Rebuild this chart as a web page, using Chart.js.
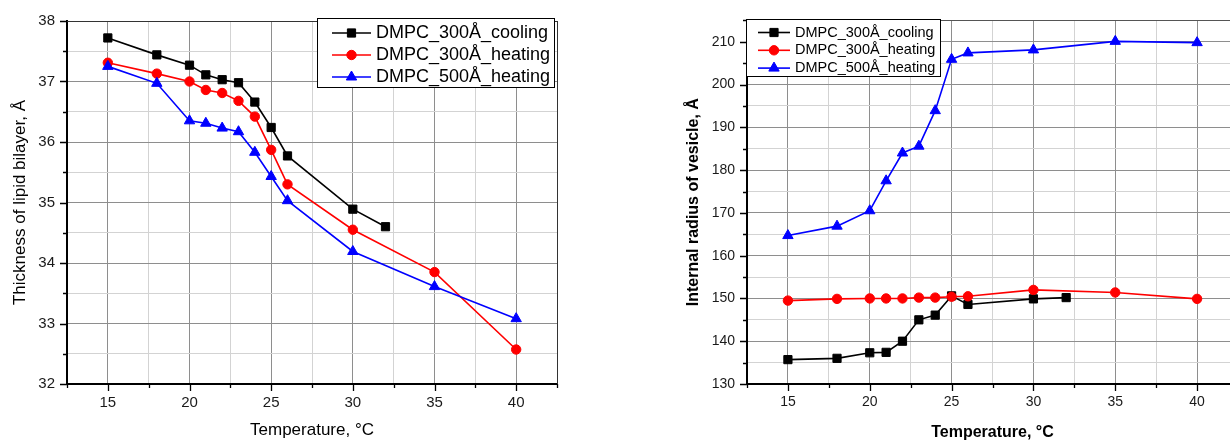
<!DOCTYPE html>
<html>
<head>
<meta charset="utf-8">
<title>DMPC bilayer thickness and vesicle radius vs temperature</title>
<script src="https://cdn.jsdelivr.net/npm/chart.js@4.4.1/dist/chart.umd.min.js"></script>
<style>
  html, body { margin: 0; padding: 0; background: #fff; }
  body { width: 1230px; height: 441px; overflow: hidden; position: relative; }
  canvas { position: absolute; top: 0; }
  #thicknessChart { left: 0; }
  #radiusChart { left: 670px; }
</style>
</head>
<body>
<canvas id="thicknessChart" width="600" height="441"></canvas>
<canvas id="radiusChart" width="620" height="441"></canvas>
<script>
// Temperatures (°C) at which each series was measured
const temperatureCooling = [15, 18, 20, 21, 22, 23, 24, 25, 26, 30, 32];
const temperatureHeating = [15, 18, 20, 21, 22, 23, 24, 25, 26, 30, 35, 40];

// Series names
const seriesNames = ['DMPC_300Å_cooling', 'DMPC_300Å_heating', 'DMPC_500Å_heating'];

// Thickness of lipid bilayer, Å
const thicknessCooling300 = [37.72, 37.44, 37.27, 37.11, 37.03, 36.98, 36.66, 36.24, 35.77, 34.89, 34.60];
const thicknessHeating300 = [37.31, 37.13, 37.00, 36.86, 36.81, 36.68, 36.42, 35.87, 35.30, 34.55, 33.85, 32.57];
const thicknessHeating500 = [37.25, 36.97, 36.35, 36.31, 36.23, 36.17, 35.83, 35.43, 35.03, 34.19, 33.61, 33.08];

// Internal radius of vesicle, Å
const radiusCooling300 = [135.7, 136.0, 137.3, 137.4, 140.0, 145.0, 146.1, 150.6, 148.6, 149.9, 150.2];
const radiusHeating300 = [149.5, 149.9, 150.0, 150.0, 150.0, 150.2, 150.2, 150.4, 150.5, 152.0, 151.4, 149.9];
const radiusHeating500 = [164.7, 166.9, 170.5, 177.5, 184.0, 185.6, 193.9, 205.9, 207.4, 208.1, 210.1, 209.8];

const FONT = "'Liberation Sans', Arial, Helvetica, sans-serif";
const MAJOR_GRID = '#8e8e8e';
const MINOR_GRID = '#d3d3d3';

function isMajor(v, step) {
  return Math.abs(v - Math.round(v / step) * step) < 1e-6;
}

function toPoints(xs, ys) {
  return xs.map((x, i) => ({ x: x, y: ys[i] }));
}

const seriesStyles = [
  { color: '#000000', pointStyle: 'rect', radius: 5.8, order: 3 },
  { color: '#ff0000', pointStyle: 'circle', radius: 4.7, order: 2 },
  { color: '#0000ff', pointStyle: 'triangle', radius: 6, order: 1 }
];

function makeDataset(i, xs, ys) {
  const s = seriesStyles[i];
  return {
    label: seriesNames[i],
    data: toPoints(xs, ys),
    borderColor: s.color,
    backgroundColor: s.color,
    pointBackgroundColor: s.color,
    pointBorderColor: s.color,
    pointBorderWidth: 1,
    pointStyle: s.pointStyle,
    pointRadius: s.radius,
    pointHoverRadius: s.radius,
    borderWidth: 1.6,
    tension: 0,
    order: s.order
  };
}

function drawMarker(ctx, style, x, y, r) {
  ctx.beginPath();
  if (style === 'rect') {
    const h = r * Math.SQRT1_2;
    ctx.rect(x - h, y - h, 2 * h, 2 * h);
  } else if (style === 'circle') {
    ctx.arc(x, y, r, 0, Math.PI * 2);
  } else if (style === 'triangle') {
    const w = r * Math.sqrt(3) / 2;
    ctx.moveTo(x, y - r);
    ctx.lineTo(x + w, y + r / 2);
    ctx.lineTo(x - w, y + r / 2);
    ctx.closePath();
  }
  ctx.fill();
  ctx.stroke();
}

// Minor/major tick marks, plot frame and a boxed legend
const axisDecor = {
  id: 'axisDecor',
  beforeDatasetsDraw(chart, args, opts) {
    const ctx = chart.ctx;
    const area = chart.chartArea;
    const xs = chart.scales.x, ys = chart.scales.y;
    ctx.save();
    // top and right frame
    ctx.strokeStyle = opts.frameColor;
    ctx.lineWidth = 1;
    ctx.beginPath();
    ctx.moveTo(area.left, Math.round(area.top) + 0.5);
    ctx.lineTo(area.right, Math.round(area.top) + 0.5);
    ctx.moveTo(Math.round(area.right) + 0.5, area.top);
    ctx.lineTo(Math.round(area.right) + 0.5, area.bottom);
    ctx.stroke();
    // outward ticks
    ctx.strokeStyle = '#000';
    ctx.lineWidth = 1.3;
    ctx.beginPath();
    xs.ticks.forEach(t => {
      const px = Math.round(xs.getPixelForValue(t.value)) + 0.5;
      const len = isMajor(t.value, opts.xMajor) ? 7 : 4;
      ctx.moveTo(px, area.bottom);
      ctx.lineTo(px, area.bottom + len);
    });
    ys.ticks.forEach(t => {
      const py = Math.round(ys.getPixelForValue(t.value)) + 0.5;
      const len = isMajor(t.value, opts.yMajor) ? 7 : 4;
      ctx.moveTo(area.left, py);
      ctx.lineTo(area.left - len, py);
    });
    ctx.stroke();
    ctx.restore();
  },
  afterDraw(chart, args, opts) {
    const lg = opts.legend;
    const ctx = chart.ctx;
    ctx.save();
    ctx.fillStyle = '#fff';
    ctx.fillRect(lg.x, lg.y, lg.w, lg.h);
    ctx.strokeStyle = '#000';
    ctx.lineWidth = 1;
    ctx.strokeRect(lg.x + 0.5, lg.y + 0.5, lg.w, lg.h);
    ctx.font = lg.fontSize + 'px ' + FONT;
    ctx.textBaseline = 'middle';
    ctx.textAlign = 'left';
    chart.data.datasets.forEach((ds, i) => {
      const cy = lg.firstRowY + i * lg.rowH;
      ctx.strokeStyle = ds.borderColor;
      ctx.fillStyle = ds.borderColor;
      ctx.lineWidth = ds.borderWidth;
      ctx.beginPath();
      ctx.moveTo(lg.lineX0, cy);
      ctx.lineTo(lg.lineX1, cy);
      ctx.stroke();
      ctx.lineWidth = 1;
      drawMarker(ctx, ds.pointStyle, (lg.lineX0 + lg.lineX1) / 2, cy, ds.pointRadius);
      ctx.fillStyle = '#000';
      ctx.fillText(ds.label, lg.textX, cy);
    });
    ctx.restore();
  }
};

function buildOptions(cfg) {
  return {
    responsive: false,
    animation: false,
    events: [],
    layout: { padding: cfg.padding },
    plugins: {
      legend: { display: false },
      tooltip: { enabled: false },
      axisDecor: {
        frameColor: cfg.frameColor,
        xMajor: 5,
        yMajor: cfg.yMajor,
        legend: cfg.legend
      }
    },
    scales: {
      x: {
        type: 'linear',
        min: 12.5, max: 42.5,
        afterFit: s => { s.height = cfg.xAxisHeight; },
        border: { color: '#000', width: 2 },
        grid: {
          drawTicks: false,
          lineWidth: 1,
          color: c => isMajor(c.tick.value, 5) ? MAJOR_GRID : MINOR_GRID
        },
        ticks: {
          stepSize: 2.5,
          autoSkip: false,
          maxRotation: 0,
          padding: 10,
          color: '#1a1a1a',
          font: { family: FONT, size: cfg.tickSize },
          callback: v => isMajor(v, 5) ? String(v) : ''
        },
        title: {
          display: true,
          text: 'Temperature, °C',
          color: '#000',
          padding: cfg.xTitlePad,
          font: { family: FONT, size: cfg.titleSize, weight: cfg.titleWeight, lineHeight: cfg.xTitleLH }
        }
      },
      y: {
        type: 'linear',
        min: cfg.yMin, max: cfg.yMax,
        afterFit: s => { s.width = cfg.yAxisWidth; },
        border: { color: '#000', width: 2 },
        grid: {
          drawTicks: false,
          lineWidth: 1,
          color: c => isMajor(c.tick.value, cfg.yMajor) ? MAJOR_GRID : MINOR_GRID
        },
        ticks: {
          stepSize: cfg.yStep,
          autoSkip: false,
          padding: 12,
          color: '#1a1a1a',
          font: { family: FONT, size: cfg.tickSize },
          callback: v => isMajor(v, cfg.yMajor) ? String(v) : ''
        },
        title: {
          display: true,
          text: cfg.yTitle,
          color: '#000',
          padding: cfg.yTitlePad,
          font: { family: FONT, size: cfg.titleSize, weight: cfg.titleWeight }
        }
      }
    }
  };
}

// Left panel: bilayer thickness
new Chart(document.getElementById('thicknessChart'), {
  type: 'line',
  data: {
    datasets: [
      makeDataset(0, temperatureCooling, thicknessCooling300),
      makeDataset(1, temperatureHeating, thicknessHeating300),
      makeDataset(2, temperatureHeating, thicknessHeating500)
    ]
  },
  options: buildOptions({
    padding: { left: 0, top: 20, right: 43, bottom: 0 },
    frameColor: '#333',
    yMin: 32, yMax: 38, yStep: 0.5, yMajor: 1,
    yAxisWidth: 67, xAxisHeight: 57,
    tickSize: 15, titleSize: 17, titleWeight: 'normal',
    xTitlePad: { top: 0, bottom: 0 }, xTitleLH: 1.2,
    yTitlePad: { top: 10, bottom: 0 },
    yTitle: 'Thickness of lipid bilayer, Å',
    legend: {
      x: 317, y: 18, w: 237, h: 69,
      firstRowY: 33, rowH: 22,
      lineX0: 332, lineX1: 371, textX: 376, fontSize: 18
    }
  }),
  plugins: [axisDecor]
});

// Right panel: internal vesicle radius
new Chart(document.getElementById('radiusChart'), {
  type: 'line',
  data: {
    datasets: [
      makeDataset(0, temperatureCooling, radiusCooling300),
      makeDataset(1, temperatureHeating, radiusHeating300),
      makeDataset(2, temperatureHeating, radiusHeating500)
    ]
  },
  options: buildOptions({
    padding: { left: 0, top: 20, right: 52, bottom: 0 },
    frameColor: '#555',
    yMin: 130, yMax: 215, yStep: 5, yMajor: 10,
    yAxisWidth: 77, xAxisHeight: 57,
    tickSize: 14, titleSize: 16, titleWeight: 'bold',
    xTitlePad: { top: 0, bottom: 0 }, xTitleLH: 1.0,
    yTitlePad: { top: 14, bottom: 0 },
    yTitle: 'Internal radius of vesicle, Å',
    legend: {
      x: 76, y: 19, w: 194, h: 57,
      firstRowY: 32.5, rowH: 17.8,
      lineX0: 88, lineX1: 120, textX: 125, fontSize: 14.5
    }
  }),
  plugins: [axisDecor]
});
</script>
</body>
</html>
